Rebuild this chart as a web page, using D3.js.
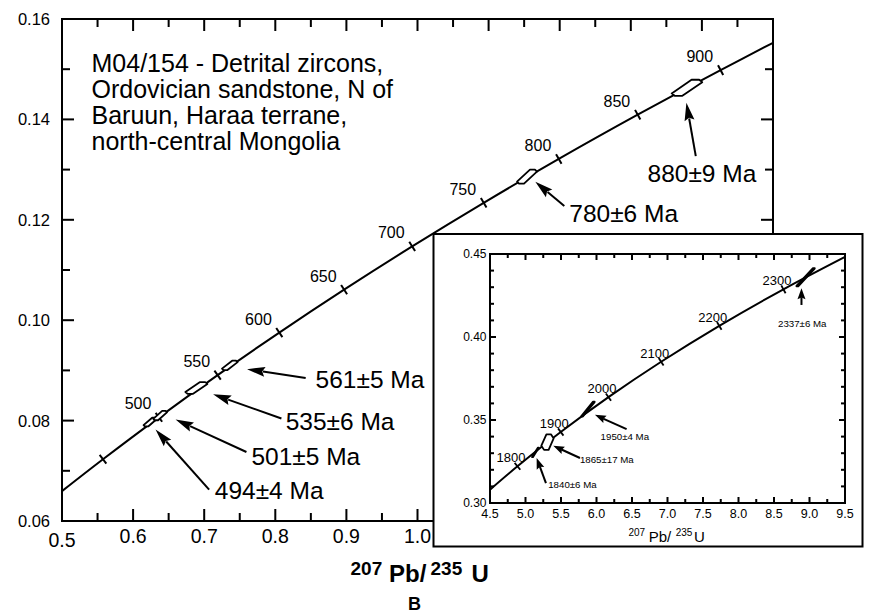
<!DOCTYPE html>
<html>
<head>
<meta charset="utf-8">
<script src="https://cdn.jsdelivr.net/npm/d3@7"></script>
<style>
  body { margin: 0; background: #fff; }
  svg { display: block; }
  text { font-family: "Liberation Sans", Arial, Helvetica, sans-serif; fill: #000; }
</style>
</head>
<body>
<svg id="chart" width="869" height="614"></svg>
<script>
// ---- Concordia, main diagram (age in Ma, 207Pb/235U, 206Pb/238U) ----
const mainConcordiaAge = [411.7, 450, 500, 550, 600, 650, 700, 750, 800, 850, 900, 930.4];
const mainConcordiaX = [0.5, 0.55765, 0.63628, 0.71887, 0.80563, 0.89677, 0.99251, 1.09308, 1.19873, 1.30971, 1.42630, 1.5];
const mainConcordiaY = [0.06595, 0.07230, 0.08065, 0.08906, 0.09754, 0.10609, 0.11470, 0.12338, 0.13213, 0.14094, 0.14983, 0.15526];
const mainTickAges = [450, 500, 550, 600, 650, 700, 750, 800, 850, 900];
const mainTickLabels = ["", "500", "550", "600", "650", "700", "750", "800", "850", "900"];

// ---- Zircon analyses, main diagram ----
const mainGrainLabels = ["494±4 Ma", "501±5 Ma", "535±6 Ma", "561±5 Ma", "780±6 Ma", "880±9 Ma"];
const mainGrainX = [0.624, 0.638, 0.689, 0.736, 1.154, 1.379];
const mainGrainY = [0.0797, 0.0810, 0.0865, 0.0910, 0.1286, 0.1463];
const mainGrainErrX = [0.0093, 0.0096, 0.0155, 0.0110, 0.0140, 0.0215];
const mainGrainErrY = [0.00087, 0.00093, 0.00116, 0.00093, 0.0014, 0.0016];
const mainGrainRho = [0.7, 0.7, 0.7, 0.7, 0.7, 0.7];

// ---- Axis ticks, main diagram ----
const mainXTicks = [0.5, 0.55, 0.6, 0.65, 0.7, 0.75, 0.8, 0.85, 0.9, 0.95, 1.0, 1.05, 1.1, 1.15, 1.2, 1.25, 1.3, 1.35, 1.4, 1.45, 1.5];
const mainXLabels = [0.5, 0.6, 0.7, 0.8, 0.9, 1.0];
const mainXMajor = [0.5, 0.6, 0.7, 0.8, 0.9, 1.0, 1.1, 1.2, 1.3, 1.4, 1.5];
const mainYTicks = [0.06, 0.07, 0.08, 0.09, 0.10, 0.11, 0.12, 0.13, 0.14, 0.15, 0.16];
const mainYLabels = [0.06, 0.08, 0.10, 0.12, 0.14, 0.16];

// ---- Concordia, inset ----
const insetConcordiaAge = [1731, 1800, 1900, 2000, 2100, 2200, 2300, 2387.6];
const insetConcordiaX = [4.5, 4.8869, 5.4962, 6.1685, 6.9105, 7.7292, 8.6326, 9.5];
const insetConcordiaY = [0.30802, 0.32211, 0.34277, 0.36377, 0.38509, 0.40674, 0.42873, 0.44827];
const insetTickAges = [1800, 1900, 2000, 2100, 2200, 2300];
const insetTickLabels = ["1800", "1900", "2000", "2100", "2200", "2300"];

// ---- Zircon analyses, inset ----
const insetGrainLabels = ["1840±6 Ma", "1865±17 Ma", "1950±4 Ma", "2337±6 Ma"];
const insetGrainX = [5.14, 5.31, 5.88, 8.945];
const insetGrainY = [0.3305, 0.3367, 0.3566, 0.4360];
const insetGrainErrX = [0.047, 0.0866, 0.094, 0.129];
const insetGrainErrY = [0.0029, 0.0047, 0.0045, 0.0055];
const insetGrainRho = [0.93, 0.46, 0.93, 0.95];

// ---- Axis ticks, inset ----
const insetXTicks = [4.5, 4.75, 5.0, 5.25, 5.5, 5.75, 6.0, 6.25, 6.5, 6.75, 7.0, 7.25, 7.5, 7.75, 8.0, 8.25, 8.5, 8.75, 9.0, 9.25, 9.5];
const insetXLabels = [4.5, 5.0, 5.5, 6.0, 6.5, 7.0, 7.5, 8.0, 8.5, 9.0, 9.5];
const insetYTicks = [0.30, 0.31, 0.32, 0.33, 0.34, 0.35, 0.36, 0.37, 0.38, 0.39, 0.40, 0.41, 0.42, 0.43, 0.44, 0.45];
const insetYLabels = [0.30, 0.35, 0.40, 0.45];

// ---- Text ----
const titleLines = ["M04/154 - Detrital zircons,", "Ordovician sandstone, N of", "Baruun, Haraa terrane,", "north-central Mongolia"];

// Arrow annotations in data units: [tailX, tailY, tipX, tipY, labelX, labelY]
const mainArrows = [
  [0.7069, 0.06626, 0.6316, 0.07822, 0.7149, 0.06446],
  [0.7594, 0.07375, 0.6597, 0.08021, 0.7664, 0.07110],
  [0.8086, 0.08041, 0.7125, 0.08525, 0.8146, 0.07808],
  [0.8427, 0.08850, 0.7603, 0.09024, 0.8567, 0.08659],
  [1.2065, 0.12273, 1.1657, 0.12757, 1.2135, 0.11960],
  [1.3914, 0.13269, 1.3782, 0.14332, 1.3235, 0.12757]
];
const insetArrows = [
  [5.288, 0.3120, 5.157, 0.3271, 5.320, 0.3090],
  [5.767, 0.3271, 5.391, 0.3345, 5.767, 0.3241],
  [6.424, 0.3445, 5.978, 0.3531, 6.058, 0.3377],
  [8.887, 0.4193, 8.887, 0.4294, 8.557, 0.4063]
];

const svg = d3.select("#chart");

// Main plot area
const M = { left: 62, right: 773, top: 19, bottom: 521 };
const x = d3.scaleLinear().domain([0.5, 1.5]).range([M.left, M.right]);
const y = d3.scaleLinear().domain([0.06, 0.16]).range([M.bottom, M.top]);

// Inset box and plot area
const B = { left: 433.5, top: 234, right: 862.5, bottom: 546.5 };
const I = { left: 490, right: 845, top: 254, bottom: 503 };
const xi = d3.scaleLinear().domain([4.5, 9.5]).range([I.left, I.right]);
const yi = d3.scaleLinear().domain([0.30, 0.45]).range([I.bottom, I.top]);

// Error polygon: a centrally symmetric hexagon stretched along the correlation
function errorHex(cx, cy, w, h, rho) {
  const r = rho, f = Math.min(1, rho + 0.1), g = 2 * rho - 1.1;
  const pts = [[1, r], [f, 1], [g, 1], [-1, -r], [-f, -1], [-g, -1]];
  return pts.map(([u, v]) => [cx + u * w, cy - v * h]);
}

function drawArrow(g, x1, y1, x2, y2, headLen, headW, sw) {
  const dx = x2 - x1, dy = y2 - y1, L = Math.hypot(dx, dy);
  const ux = dx / L, uy = dy / L;
  const bx = x2 - ux * headLen, by = y2 - uy * headLen;
  g.append("line").attr("x1", x1).attr("y1", y1).attr("x2", bx + ux * 2).attr("y2", by + uy * 2)
    .attr("stroke", "#000").attr("stroke-width", sw);
  g.append("polygon")
    .attr("points", [[x2, y2], [bx - uy * headW, by + ux * headW], [bx + ux * headLen * 0.15, by + uy * headLen * 0.15], [bx + uy * headW, by - ux * headW]].map(p => p.join(",")).join(" "))
    .attr("fill", "#000");
}

function seg(g, ax, ay, bx, by, sw) {
  g.append("line").attr("x1", ax).attr("y1", ay).attr("x2", bx).attr("y2", by)
    .attr("stroke", "#000").attr("stroke-width", sw);
}

// Inward frame ticks as small filled bars; "hidden" skips those under the inset
function frameTicks(g, xs, ys, xTicks, yTicks, xMajor, yMajor, majLen, minLen, hidden) {
  const xl = xs.range()[0], xr = xs.range()[1];
  const yb = ys.range()[0], yt = ys.range()[1];
  const bars = [];
  xTicks.forEach(v => {
    const px = xs(v);
    const len = xMajor.some(m => Math.abs(m - v) < 1e-9) ? majLen : minLen;
    bars.push([px - 1, yb - len, 2, len]);
    bars.push([px - 1, yt, 2, len]);
  });
  yTicks.forEach(v => {
    const py = ys(v);
    const len = yMajor.some(m => Math.abs(m - v) < 1e-9) ? majLen : minLen;
    bars.push([xl, py - 1, len, 2]);
    bars.push([xr - len, py - 1, len, 2]);
  });
  bars.filter(b => !hidden(b)).forEach(([bx, by, bw, bh]) => {
    g.append("rect").attr("x", bx).attr("y", by).attr("width", bw).attr("height", bh).attr("fill", "#000");
  });
}

// Tick labels on the bottom and left edges
function tickLabels(g, xs, ys, xLabels, yLabels, xFmt, yFmt, xFont, yFont, xOff, yOff) {
  const yb = ys.range()[0], xl = xs.range()[0];
  const bl = xLabels.map(v => g.append("text").attr("x", xs(v)).attr("y", yb + xOff)
    .attr("text-anchor", "middle").style("font-size", xFont + "px").text(xFmt(v)));
  yLabels.forEach(v => g.append("text").attr("x", xl - yOff).attr("y", ys(v)).attr("dy", "0.36em")
    .attr("text-anchor", "end").style("font-size", yFont + "px").text(yFmt(v)));
  return bl;
}

function drawConcordia(g, xs, ys, X, Y, sw) {
  const pts = X.map((v, i) => [xs(v), ys(Y[i])]);
  g.append("path").attr("d", d3.line().curve(d3.curveCatmullRom.alpha(0.5))(pts))
    .attr("fill", "none").attr("stroke", "#000").attr("stroke-width", sw);
  return pts;
}

function normalAt(pts, i) {
  const a = pts[Math.max(0, i - 1)], b = pts[Math.min(pts.length - 1, i + 1)];
  const dx = b[0] - a[0], dy = b[1] - a[1], L = Math.hypot(dx, dy);
  return [-dy / L, dx / L];
}

// ================= Main diagram =================
const mainPts = drawConcordia(svg, x, y, mainConcordiaX, mainConcordiaY, 2);

// Age ticks across the concordia
mainTickAges.forEach((age, k) => {
  const i = mainConcordiaAge.indexOf(age);
  const [px, py] = mainPts[i];
  const [nx, ny] = normalAt(mainPts, i), hl = 5.5;
  seg(svg, px - nx * hl, py - ny * hl, px + nx * hl, py + ny * hl, 2);
  if (mainTickLabels[k]) {
    svg.append("text").attr("x", px - 7.5).attr("y", py - 8).attr("text-anchor", "end")
      .style("font-size", "16px").text(mainTickLabels[k]);
  }
});

// Error polygons
mainGrainX.forEach((gx, i) => {
  const cx = x(gx), cy = y(mainGrainY[i]);
  const w = x(gx + mainGrainErrX[i]) - cx, h = cy - y(mainGrainY[i] + mainGrainErrY[i]);
  svg.append("polygon").attr("points", errorHex(cx, cy, w, h, mainGrainRho[i]).map(p => p.join(",")).join(" "))
    .attr("fill", "#fff").attr("stroke", "#000").attr("stroke-width", 1.8).attr("stroke-linejoin", "round");
});

// Arrows and age labels
mainArrows.forEach((a, i) => {
  drawArrow(svg, x(a[0]), y(a[1]), x(a[2]), y(a[3]), 18, 5, 2);
  svg.append("text").attr("x", x(a[4])).attr("y", y(a[5])).style("font-size", "24.5px").text(mainGrainLabels[i]);
});

// Frame and labels
svg.append("rect").attr("x", M.left).attr("y", M.top).attr("width", M.right - M.left).attr("height", M.bottom - M.top)
  .attr("fill", "none").attr("stroke", "#000").attr("stroke-width", 2);
const mainBottomLabels = tickLabels(svg, x, y, mainXLabels, mainYLabels, d3.format(".1f"), d3.format(".2f"), 19.5, 16.5, 22, 12);
mainBottomLabels[0].attr("y", M.bottom + 25.5);

// Sample description
const title = svg.append("text").style("font-size", "25px");
titleLines.forEach((line, i) => {
  title.append("tspan").attr("x", 91.5).attr("y", 71.5 + i * 26).text(line);
});

// Axis title
const axisTitle = [["207", 350.5, 574.5, 19], ["Pb/", 389, 581.5, 24], ["235", 430.5, 574.5, 19], ["U", 471.5, 581.5, 24]];
axisTitle.forEach(([t, tx, ty, fs]) => {
  svg.append("text").attr("x", tx).attr("y", ty).style("font-weight", "bold").style("font-size", fs + "px").text(t);
});
svg.append("text").attr("x", 414.5).attr("y", 610).attr("text-anchor", "middle")
  .style("font-weight", "bold").style("font-size", "18px").text("B");

// Main frame ticks, leaving out the ones the inset box covers
frameTicks(svg, x, y, mainXTicks, mainYTicks, mainXMajor, mainYLabels, 12, 8,
  ([bx, by, bw, bh]) => bx + bw > B.left && by + bh > B.top);

// ================= Inset =================
svg.append("rect").attr("x", B.left).attr("y", B.top).attr("width", B.right - B.left).attr("height", B.bottom - B.top)
  .attr("fill", "#fff").attr("stroke", "#000").attr("stroke-width", 2);

const insetPts = drawConcordia(svg, xi, yi, insetConcordiaX, insetConcordiaY, 2);

insetTickAges.forEach((age, k) => {
  const i = insetConcordiaAge.indexOf(age);
  const [px, py] = insetPts[i];
  const [nx, ny] = normalAt(insetPts, i), hl = 4.5;
  seg(svg, px - nx * hl, py - ny * hl, px + nx * hl, py + ny * hl, 1.8);
  svg.append("text").attr("x", px + 8).attr("y", py - 4).attr("text-anchor", "end")
    .style("font-size", "13px").text(insetTickLabels[k]);
});

insetGrainX.forEach((gx, i) => {
  const cx = xi(gx), cy = yi(insetGrainY[i]);
  const w = xi(gx + insetGrainErrX[i]) - cx, h = cy - yi(insetGrainY[i] + insetGrainErrY[i]);
  svg.append("polygon").attr("points", errorHex(cx, cy, w, h, insetGrainRho[i]).map(p => p.join(",")).join(" "))
    .attr("fill", "#fff").attr("stroke", "#000").attr("stroke-width", 1.8).attr("stroke-linejoin", "round");
});

insetArrows.forEach((a, i) => {
  drawArrow(svg, xi(a[0]), yi(a[1]), xi(a[2]), yi(a[3]), 11, 4, 2);
  svg.append("text").attr("x", xi(a[4])).attr("y", yi(a[5])).style("font-size", "9.7px").text(insetGrainLabels[i]);
});

svg.append("rect").attr("x", I.left).attr("y", I.top).attr("width", I.right - I.left).attr("height", I.bottom - I.top)
  .attr("fill", "none").attr("stroke", "#000").attr("stroke-width", 2);
tickLabels(svg, xi, yi, insetXLabels, insetYLabels, d3.format(".1f"), d3.format(".2f"), 12.5, 12, 15, 3.5);

// Inset axis title with raised mass numbers
const it = svg.append("text").attr("x", 628.5).attr("y", 542.3).style("font-size", "15px");
it.append("tspan").attr("dy", -6.3).style("font-size", "10px").text("207");
it.append("tspan").attr("dx", 3.5).attr("dy", 6.3).text("Pb/");
it.append("tspan").attr("dx", 4.5).attr("dy", -6.3).style("font-size", "10px").text("235");
it.append("tspan").attr("dx", 1.5).attr("dy", 6.3).text("U");

// Inset frame ticks drawn last
frameTicks(svg, xi, yi, insetXTicks, insetYTicks, insetXLabels, insetYLabels, 6, 4, () => false);
</script>
</body>
</html>
